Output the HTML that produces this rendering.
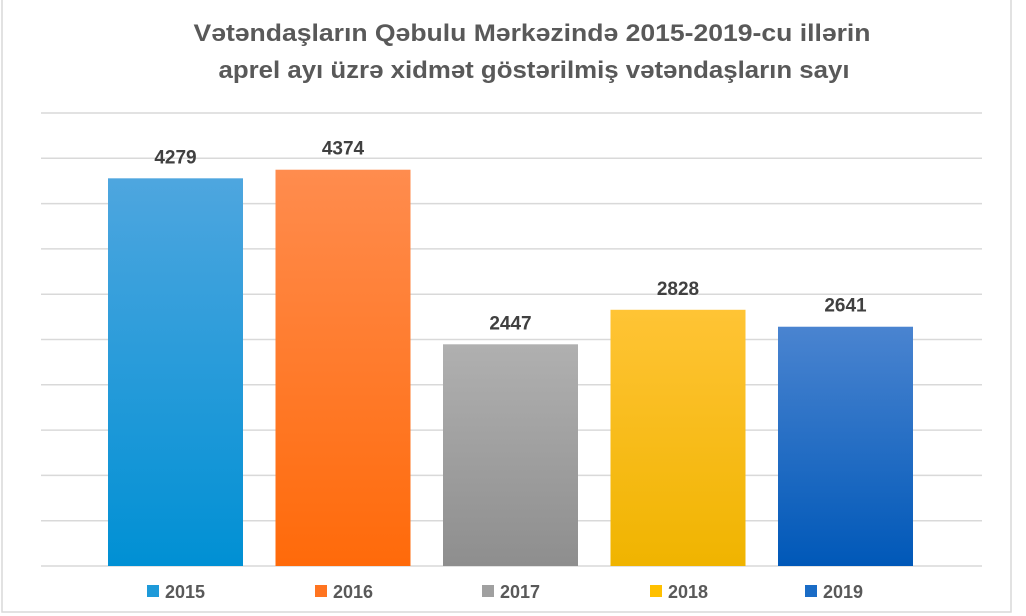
<!DOCTYPE html>
<html><head><meta charset="utf-8"><style>
body{margin:0;background:#fff;font-family:"Liberation Sans",sans-serif}
#wrap{position:relative;width:1026px;height:616px;overflow:hidden}
</style></head><body>
<div id="wrap">
<svg id="chart" width="1026" height="616">
<defs>
<linearGradient id="g0" x1="0" y1="0" x2="0" y2="1"><stop offset="0" stop-color="#4ea6df"/><stop offset="1" stop-color="#0090d4"/></linearGradient>
<linearGradient id="g1" x1="0" y1="0" x2="0" y2="1"><stop offset="0" stop-color="#ff8c4e"/><stop offset="1" stop-color="#ff6a0a"/></linearGradient>
<linearGradient id="g2" x1="0" y1="0" x2="0" y2="1"><stop offset="0" stop-color="#b0b0b0"/><stop offset="1" stop-color="#8e8e8e"/></linearGradient>
<linearGradient id="g3" x1="0" y1="0" x2="0" y2="1"><stop offset="0" stop-color="#ffc435"/><stop offset="1" stop-color="#f0b400"/></linearGradient>
<linearGradient id="g4" x1="0" y1="0" x2="0" y2="1"><stop offset="0" stop-color="#4a84d0"/><stop offset="1" stop-color="#0058b8"/></linearGradient>
</defs>
<rect x="2" y="-2" width="1009" height="614" fill="none" stroke="#d9d9d9" stroke-width="1.5"/>
<text x="532" y="41" text-anchor="middle" font-size="24" font-weight="bold" fill="#595959" textLength="677" lengthAdjust="spacingAndGlyphs">Vətəndaşların Qəbulu Mərkəzində 2015-2019-cu illərin</text>
<text x="534" y="78" text-anchor="middle" font-size="24" font-weight="bold" fill="#595959" textLength="631" lengthAdjust="spacingAndGlyphs">aprel ayı üzrə xidmət göstərilmiş vətəndaşların sayı</text>
<g id="grid"></g><g id="bars"></g><g id="legend"></g>
</svg>
</div>
<script>
const categories=["2015","2016","2017","2018","2019"];
const values=[4279,4374,2447,2828,2641];
const gridTicks=[0,500,1000,1500,2000,2500,3000,3500,4000,4500,5000];
const fills=["url(#g0)","url(#g1)","url(#g2)","url(#g3)","url(#g4)"];
const legendColors=["#1e9ad9","#ff7420","#a0a0a0","#ffc000","#1a6cc6"];
const ns="http://www.w3.org/2000/svg";
const baseY=566, topY=113, maxV=5000;
function yScale(v){return baseY-(v/maxV)*(baseY-topY);}
const x0=91.75, band=167.5, barW=135;
function xCenter(i){return x0+band*(i+0.5);}
const grid=document.getElementById('grid');
gridTicks.forEach(t=>{
  const l=document.createElementNS(ns,'line');
  l.setAttribute('x1',41);l.setAttribute('x2',982);
  l.setAttribute('y1',yScale(t));l.setAttribute('y2',yScale(t));
  l.setAttribute('stroke','#d9d9d9');l.setAttribute('stroke-width','1.5');
  
  
  grid.appendChild(l);
});
const bars=document.getElementById('bars');
values.forEach((v,i)=>{
  const r=document.createElementNS(ns,'rect');
  r.setAttribute('x',xCenter(i)-barW/2);r.setAttribute('width',barW);
  r.setAttribute('y',yScale(v));r.setAttribute('height',baseY-yScale(v));
  r.setAttribute('fill',fills[i]);
  
  
  bars.appendChild(r);
  const t=document.createElementNS(ns,'text');
  t.setAttribute('x',xCenter(i));t.setAttribute('y',yScale(v)-15);
  t.setAttribute('text-anchor','middle');t.setAttribute('font-size','19');
  t.setAttribute('font-weight','bold');t.setAttribute('fill','#404040');
  t.textContent=v;
  
  
  bars.appendChild(t);
});
const legend=document.getElementById('legend');
const legX=[147,315,482,650,805];
categories.forEach((c,i)=>{
  const g=document.createElementNS(ns,'g');
  
  
  const s=document.createElementNS(ns,'rect');
  s.setAttribute('x',legX[i]);s.setAttribute('y',585);s.setAttribute('width',12);s.setAttribute('height',12);
  s.setAttribute('fill',legendColors[i]);
  g.appendChild(s);
  const t=document.createElementNS(ns,'text');
  t.setAttribute('x',legX[i]+18);t.setAttribute('y',598);
  t.setAttribute('font-size','18');t.setAttribute('font-weight','bold');t.setAttribute('fill','#595959');
  t.textContent=c;
  g.appendChild(t);
  legend.appendChild(g);
});
</script>
</body></html>
